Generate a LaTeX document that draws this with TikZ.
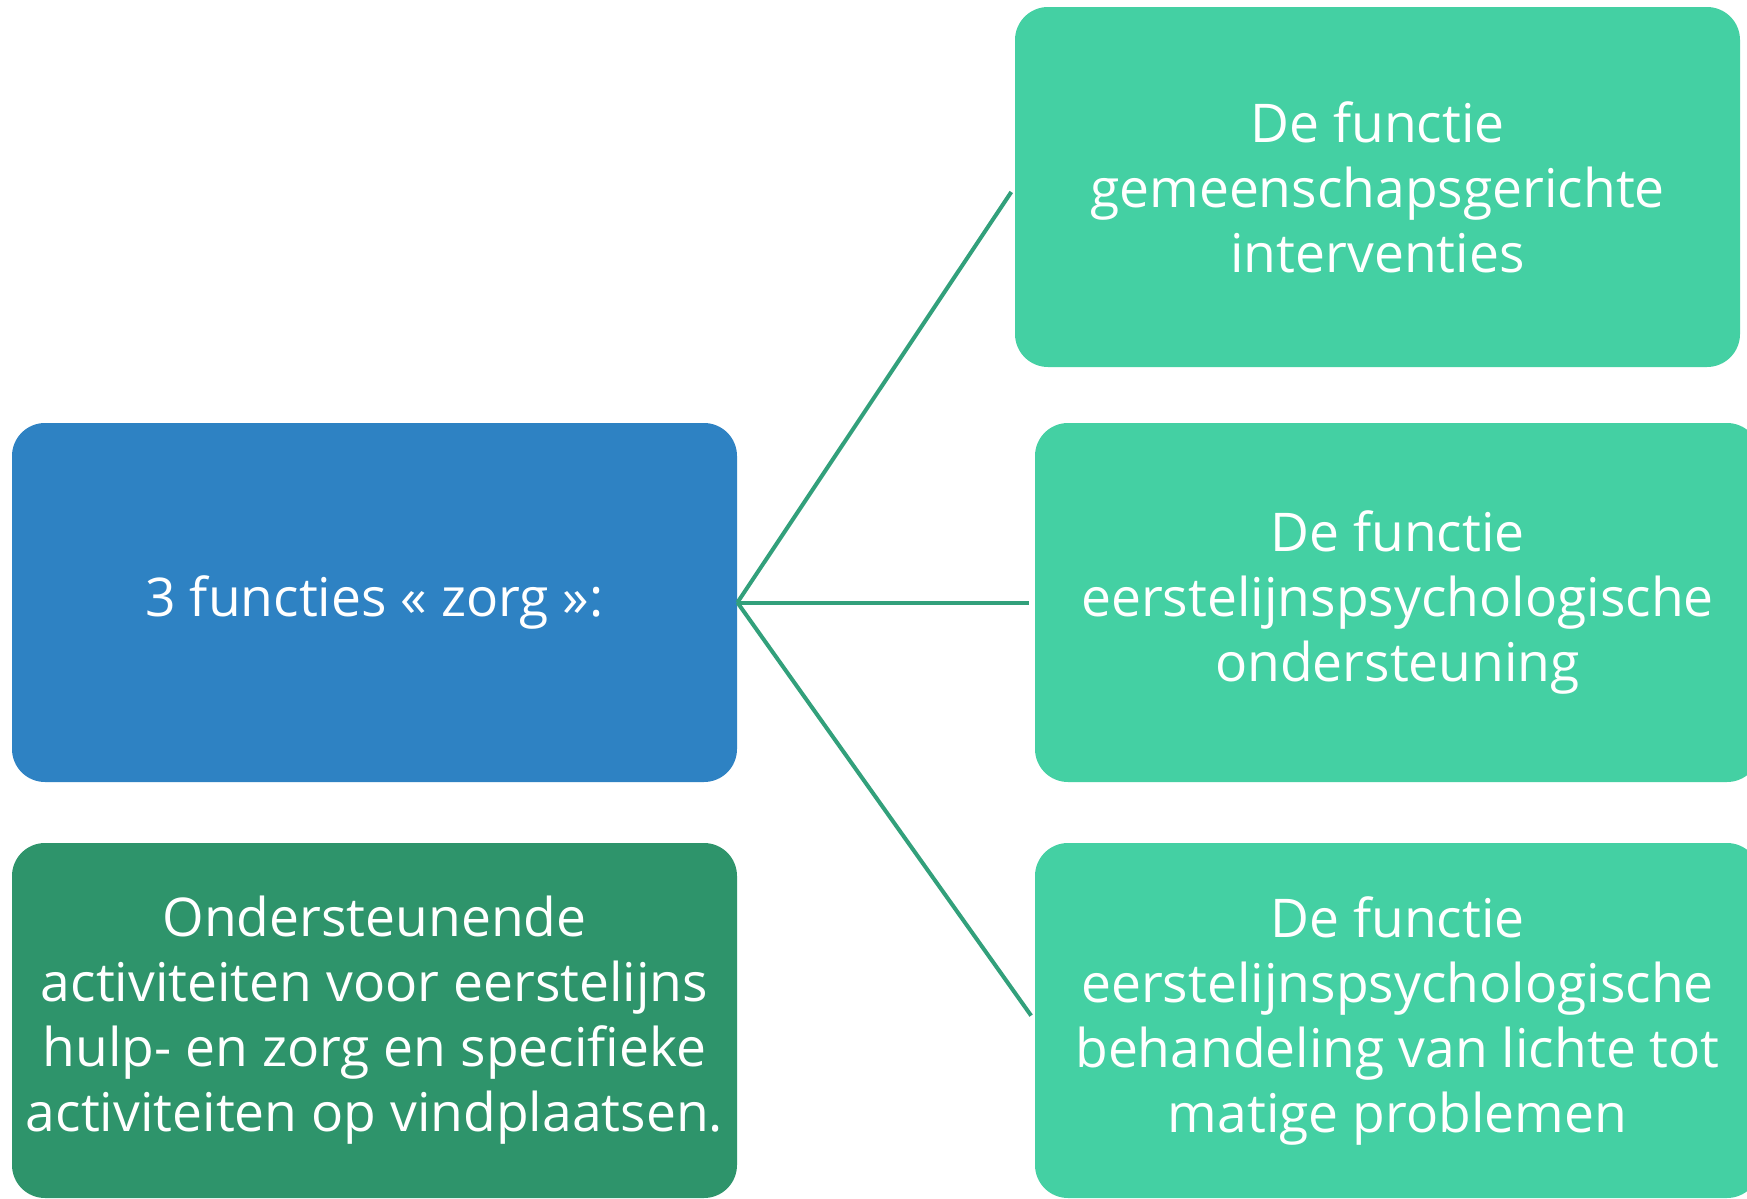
\documentclass[tikz,border=0pt]{standalone}
\usepackage{fontspec}
\setmainfont{Open Sans}
\definecolor{boxteal}{HTML}{44D0A3}
\definecolor{boxblue}{HTML}{2E82C3}
\definecolor{boxgreen}{HTML}{2E946B}
\definecolor{linegreen}{HTML}{32A07B}
\begin{document}
\begin{tikzpicture}[x=0.5pt,y=-0.5pt,
  box/.style={rounded corners=16.5pt, inner sep=0pt, minimum width=362.5pt,
    align=center, text=white, font=\fontsize{26.7pt}{32.5pt}\selectfont},
  conn/.style={draw=linegreen, line width=2pt, shorten >=3pt}]
\useasboundingbox (0,0) rectangle (1747,1199);
\clip (0,0) rectangle (1747,1199);
\fill[white] (0,0) rectangle (1747,1199);
\node[box, fill=boxteal, minimum height=180pt] (t) at (1377.5,187) {De functie\\gemeenschapsgerichte\\interventies};
\node[box, fill=boxteal, minimum height=179.5pt] (m) at (1397.5,602.5) {De functie\\eerstelijnspsychologische\\ondersteuning};
\node[box, fill=boxteal, minimum height=177.5pt] (b) at (1397.5,1020.5) {De functie\\eerstelijnspsychologische\\behandeling van lichte tot\\matige problemen};
\node[box, fill=boxblue, minimum height=179.5pt] (z) at (374.5,602.5) {3 functies « zorg »:};
\node[box, fill=boxgreen, minimum height=177.5pt] (o) at (374.5,1020.5) {Ondersteunende\\activiteiten voor eerstelijns\\hulp- en zorg en specifieke\\activiteiten op vindplaatsen.};
\draw[conn] (z.east) -- (t.west);
\draw[conn] (z.east) -- (m.west);
\draw[conn] (z.east) -- (b.west);
\end{tikzpicture}
\end{document}
